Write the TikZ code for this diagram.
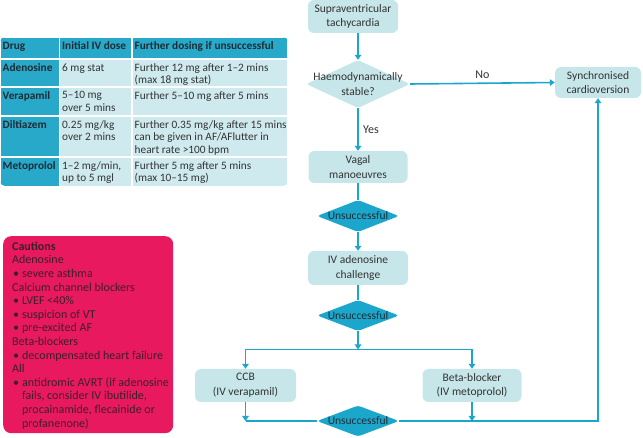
\documentclass[tikz,border=0pt]{standalone}
\usepackage{fontspec}
\setmainfont{Carlito}
\usetikzlibrary{arrows.meta,positioning,shapes.geometric}

\definecolor{pale}{HTML}{C6E6E9}
\definecolor{cellpale}{HTML}{CFEAEE}
\definecolor{flowcyan}{HTML}{1BA7CB}
\definecolor{headcyan}{HTML}{29A9CA}
\definecolor{cautionpink}{HTML}{E8195E}
\definecolor{ink}{HTML}{333333}
\definecolor{headink}{HTML}{1E2B33}
\definecolor{cautionink}{HTML}{3A1F2B}

\newcommand{\flowfont}{\fontsize{11.5}{14.7}\selectfont}
\newcommand{\tabfont}{\fontsize{11.3}{12.5}\selectfont}
\newcommand{\cautionfont}{\fontsize{12}{13.6}\selectfont}
\newcommand{\heading}[1]{\multicolumn{2}{@{}l@{}}{#1}}

\tikzset{
  box/.style={
    fill=pale,
    rounded corners=6pt,
    align=center,
    inner sep=2pt,
    font=\flowfont,
    text=ink
  },
  flowtext/.style={align=center, font=\flowfont, text=ink},
  choice/.style={
    diamond,
    fill=pale,
    rounded corners=3pt,
    inner sep=0pt,
    minimum width=104pt,
    minimum height=48pt
  },
  gate/.style={
    diamond,
    fill=flowcyan,
    rounded corners=3pt,
    inner sep=0pt,
    minimum width=82pt,
    minimum height=32pt,
    label={[font=\flowfont, text=headink]center:Unsuccessful}
  },
  cell/.style={
    anchor=north west,
    outer sep=0pt,
    inner sep=0pt,
    draw=white,
    line width=1.5pt
  },
  colA/.style={cell, fill=headcyan, minimum width=59.5pt},
  colB/.style={cell, fill=cellpale, minimum width=72.5pt},
  colC/.style={cell, fill=cellpale, minimum width=156pt},
  headrow/.style={fill=headcyan, minimum height=22pt},
  celltext/.style={
    anchor=north west,
    inner xsep=2.5pt,
    inner ysep=4pt,
    execute at begin node=\strut,
    align=left,
    font=\tabfont,
    text=ink
  },
  boldtext/.style={celltext, font=\tabfont\bfseries, text=headink},
  caution/.style={
    anchor=north west,
    fill=cautionpink,
    rounded corners=8pt,
    minimum width=170pt,
    minimum height=197pt
  },
  cautiontext/.style={
    anchor=north west,
    inner sep=0pt,
    font=\cautionfont,
    text=cautionink
  },
  link/.style={draw=flowcyan, line width=1.6pt},
  flow/.style={link, -{Triangle[length=5pt,width=6.5pt]}},
  lbl/.style={font=\fontsize{12}{14}\selectfont, text=ink}
}

\begin{document}
\begin{tikzpicture}[x=1pt, y=-1pt]
\useasboundingbox (0,0) rectangle (643,438);

% Dosing table
\begin{scope}
\clip[rounded corners=5pt] (0,37) rectangle (288,186);
\node[colA, headrow, label={[boldtext]north west:Drug}] (hdrug) at (0,37) {};
\node[colB, headrow, label={[boldtext]north west:Initial IV dose}] (hinit) at (59.5,37) {};
\node[colC, headrow, label={[boldtext]north west:Further dosing if unsuccessful}] (hmore) at (132,37) {};

\node[colA, minimum height=28pt, label={[boldtext]north west:Adenosine}] (adedrug) at (0,59) {};
\node[colB, minimum height=28pt, label={[celltext]north west:6 mg stat}] (adeinit) at (59.5,59) {};
\node[colC, minimum height=28pt, label={[celltext]north west:{Further 12 mg after 1--2 mins\\(max 18 mg stat)}}] (ademore) at (132,59) {};

\node[colA, minimum height=29pt, label={[boldtext]north west:Verapamil}] (verdrug) at (0,87) {};
\node[colB, minimum height=29pt, label={[celltext]north west:{5--10 mg\\over 5 mins}}] (verinit) at (59.5,87) {};
\node[colC, minimum height=29pt, label={[celltext]north west:Further 5--10 mg after 5 mins}] (vermore) at (132,87) {};

\node[colA, minimum height=41pt, label={[boldtext]north west:Diltiazem}] (dildrug) at (0,116) {};
\node[colB, minimum height=41pt, label={[celltext]north west:{0.25 mg/kg\\over 2 mins}}] (dilinit) at (59.5,116) {};
\node[colC, minimum height=41pt, label={[celltext]north west:{Further 0.35 mg/kg after 15 mins\\can be given in AF/AFlutter in\\heart rate >100 bpm}}] (dilmore) at (132,116) {};

\node[colA, minimum height=31pt, label={[boldtext]north west:Metoprolol}] (metdrug) at (0,157) {};
\node[colB, minimum height=31pt, label={[celltext]north west:{1--2 mg/min,\\up to 5 mgl}}] (metinit) at (59.5,157) {};
\node[colC, minimum height=31pt, label={[celltext]north west:{Further 5 mg after 5 mins\\(max 10--15 mg)}}] (metmore) at (132,157) {};
\end{scope}

% Cautions
\node[caution] (cautions) at (3,236) {};
\node[cautiontext] (cautionlist) at ([xshift=9pt, yshift=-4.5pt]cautions.north west) {%
\begin{tabular}{@{\hspace{1pt}}l@{\hspace{3pt}}l@{}}
\heading{\textbf{Cautions}}\\
\heading{Adenosine}\\
\textbullet & severe asthma\\
\heading{Calcium channel blockers}\\
\textbullet & LVEF <40\%\\
\textbullet & suspicion of VT\\
\textbullet & pre-excited AF\\
\heading{Beta-blockers}\\
\textbullet & decompensated heart failure\\
\heading{All}\\
\textbullet & antidromic AVRT (if adenosine\\
 & fails, consider IV ibutilide,\\
 & procainamide, flecainide or\\
 & profanenone)
\end{tabular}};

% Flowchart
\node[box, minimum width=90pt, minimum height=33pt] (svt) at (353,16.5) {Supraventricular\\tachycardia};
\node[choice, label={[flowtext]center:Haemodynamically\\stable?}] (stable) at (358,84) {};
\node[box, minimum width=86pt, minimum height=31pt] (sync) at (598,82.5) {Synchronised\\cardioversion};
\node[box, minimum width=99pt, minimum height=32pt] (vagal) at (358,167) {Vagal\\manoeuvres};
\node[gate] (uns1) at (358,216) {};
\node[box, minimum width=100pt, minimum height=34pt] (ivad) at (358,268) {IV adenosine\\challenge};
\node[gate, minimum height=31pt] (uns2) at (358,315.5) {};
\coordinate (split) at (358,349.5);
\node[box, minimum width=101pt, minimum height=33pt] (ccb) at (245.5,385.5) {CCB\\(IV verapamil)};
\node[box, minimum width=99pt, minimum height=33pt] (bb) at (472,385.5) {Beta-blocker\\(IV metoprolol)};
\node[gate, minimum height=31pt] (uns3) at (358,421) {};

% Arrows main flow
\draw[flow] (stable.north |- svt.south) -- (stable.north);
\draw[flow] (stable.east) -- node[lbl, above=1pt] {No} (sync.west);
\draw[flow] (stable.south) -- node[lbl, right=1pt] {Yes} (vagal.north);
\draw[link] (vagal) -- (uns1);
\draw[flow] (uns1) -- (ivad);
\draw[link] (ivad) -- (uns2);
\draw[flow] (uns2) -- (split);

% Branch arrows
\draw[flow] (split) -| (ccb.north);
\draw[flow] (split) -| (bb.north);
\draw[flow] (ccb.south) -- (ccb.south |- uns3.west);
\draw[flow] (bb.south) -- (bb.south |- uns3.east);
\draw[link] (ccb.south |- uns3.west) -- (uns3.west);
\draw[flow] (uns3.east) -| (sync.south);

\end{tikzpicture}
\end{document}
